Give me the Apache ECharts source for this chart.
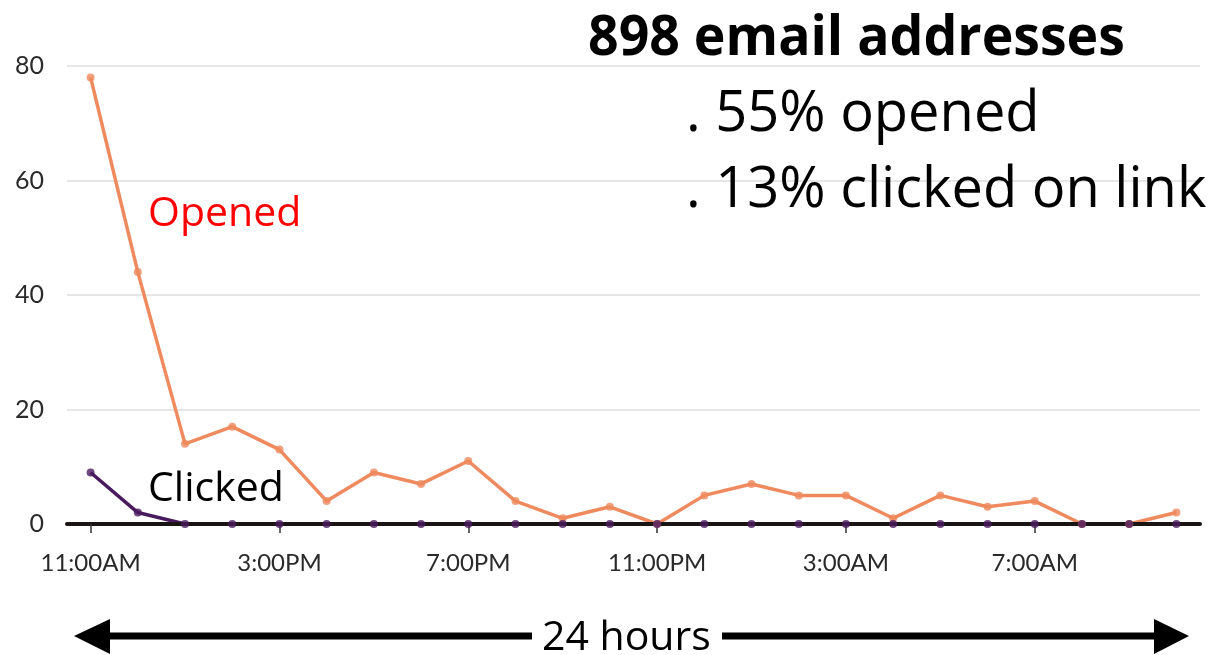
<!DOCTYPE html>
<html>
<head>
<meta charset="utf-8">
<script src="https://cdn.jsdelivr.net/npm/echarts@6/dist/echarts.min.js"></script>
<style>
html,body{margin:0;padding:0;background:#fff;}
#c{width:1209px;height:655px;}
</style>
</head>
<body>
<div id="c"></div>
<script>
const categories = ['11:00AM','12:00PM','1:00PM','2:00PM','3:00PM','4:00PM','5:00PM','6:00PM','7:00PM','8:00PM','9:00PM','10:00PM',
  '11:00PM','12:00AM','1:00AM','2:00AM','3:00AM','4:00AM','5:00AM','6:00AM','7:00AM','8:00AM','9:00AM','10:00AM'];
const opened = [78, 44, 14, 17, 13, 4, 9, 7, 11, 4, 1, 3, 0, 5, 7, 5, 5, 1, 5, 3, 4, 0, 0, 2];
const clicked = [9, 2, 0, 0, 0, 0, 0, 0, 0, 0, 0, 0, 0, 0, 0, 0, 0, 0, 0, 0, 0, 0, 0, 0];
const yTicks = [0, 20, 40, 60, 80];

const ORANGE = '#EE8A5E';
const PURPLE = '#4A1A5E';

const chart = echarts.init(document.getElementById('c'), null, {renderer: 'canvas'});
const calFont = '"Open Sans", "Noto Sans", sans-serif';

chart.setOption({
  animation: false,
  backgroundColor: '#fff',
  grid: {left: 67, right: 9, top: 66, bottom: 131, containLabel: false},
  xAxis: {
    type: 'category',
    data: categories,
    boundaryGap: true,
    z: 3,
    axisLine: {show: true, lineStyle: {color: '#1a1414', width: 4}},
    axisTick: {show: true, interval: 3, alignWithLabel: true, length: 9, lineStyle: {color: '#333', width: 1.5}},
    axisLabel: {interval: 3, margin: 27, color: '#2a2a2a', fontSize: 24, fontFamily: 'Lato, sans-serif'},
    splitLine: {show: false}
  },
  yAxis: {
    type: 'value',
    min: yTicks[0],
    max: yTicks[yTicks.length - 1],
    interval: 20,
    axisLine: {show: false},
    axisTick: {show: false},
    axisLabel: {margin: 23, color: '#2a2a2a', fontSize: 25, fontFamily: 'Lato, sans-serif'},
    splitLine: {show: true, lineStyle: {color: '#dedede', width: 1.5}}
  },
  series: [
    {name: 'Opened', type: 'line', data: opened, z: 2, showSymbol: false, symbol: 'none',
     lineStyle: {color: ORANGE, width: 3.5}},
    {name: 'Clicked', type: 'line', data: clicked, z: 2, showSymbol: false, symbol: 'none',
     lineStyle: {color: PURPLE, width: 3.5}},
    {name: 'OpenedPts', type: 'scatter', data: opened, z: 5, symbolSize: 8,
     itemStyle: {color: ORANGE}},
    {name: 'ClickedPts', type: 'scatter', data: clicked, z: 6, symbolSize: 8,
     itemStyle: {color: PURPLE}}
  ],
  graphic: [
    {type: 'text', left: 588, top: 11, z: 10, scaleX: 0.957,
     style: {text: '898 email addresses', font: 'bold 56px ' + calFont, fill: '#000'}},
    {type: 'text', left: 686, top: 87, z: 10,
     style: {text: '. 55% opened', font: '56px ' + calFont, fill: '#000'}},
    {type: 'text', left: 686, top: 163, z: 10,
     style: {text: '. 13% clicked on link', font: '56px ' + calFont, fill: '#000'}},
    {type: 'text', left: 148, top: 194, z: 10,
     style: {text: 'Opened', font: '41px ' + calFont, fill: '#ff0000'}},
    {type: 'text', left: 148, top: 469, z: 10,
     style: {text: 'Clicked', font: '41px ' + calFont, fill: '#000'}},
    // bottom arrow
    {type: 'line', z: 10, shape: {x1: 106, y1: 636, x2: 532, y2: 636}, style: {stroke: '#000', lineWidth: 7}},
    {type: 'line', z: 10, shape: {x1: 722, y1: 636, x2: 1158, y2: 636}, style: {stroke: '#000', lineWidth: 7}},
    {type: 'polygon', z: 10, shape: {points: [[74, 636], [110, 619], [110, 654]]}, style: {fill: '#000'}},
    {type: 'polygon', z: 10, shape: {points: [[1189, 636], [1154, 619], [1154, 654]]}, style: {fill: '#000'}},
    {type: 'text', left: 542, top: 618, z: 10,
     style: {text: '24 hours', font: '41px ' + calFont, fill: '#000'}}
  ]
});
</script>
</body>
</html>
